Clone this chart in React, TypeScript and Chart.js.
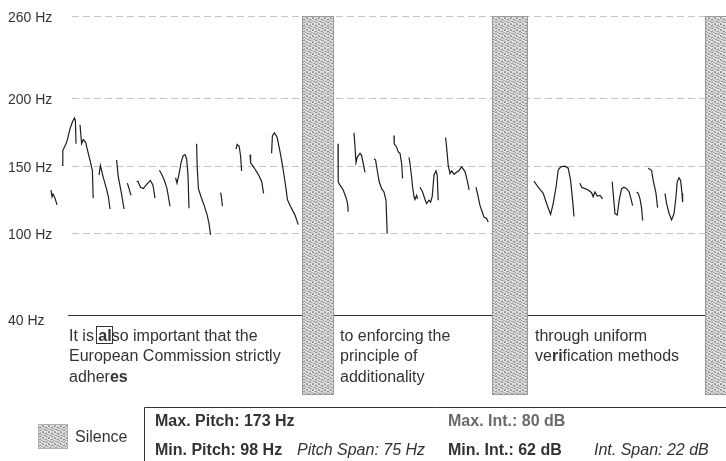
import React, { useEffect, useRef } from "react";
import { Chart, registerables } from "chart.js";

Chart.register(...registerables);

// ---- data (time in ms, pitch in Hz) ----
const yTicks = [260, 200, 150, 100, 40];
const yTickLabels = ["260 Hz", "200 Hz", "150 Hz", "100 Hz", "40 Hz"];

const segTimes: number[][] = [
  [55, 60, 65, 75, 85],
  [110, 114, 130, 137, 150, 162, 172, 177, 180],
  [200, 208, 216, 228, 238, 250, 262, 266],
  [295, 302, 315, 332, 342, 350],
  [383, 391, 408, 420],
  [437, 445, 455],
  [483, 490, 502, 517, 532, 552, 565, 575],
  [597, 610, 622, 635, 642, 650],
  [678, 685, 695, 705, 715, 725, 733, 740, 745],
  [783, 786, 792, 805, 820, 835, 845, 853],
  [903, 907, 912],
  [980, 986, 996, 1003, 1008],
  [1050, 1053, 1070, 1091, 1108, 1118],
  [1158, 1162, 1172, 1185, 1195, 1208, 1220, 1230, 1237, 1252, 1275, 1291],
  [1490, 1491, 1500, 1516, 1530, 1538, 1541],
  [1570, 1575, 1580, 1586, 1600, 1608, 1616, 1625],
  [1670, 1678, 1686, 1696, 1708, 1720, 1730, 1736],
  [1770, 1771, 1783, 1791, 1800, 1808, 1813],
  [1845, 1850, 1858, 1863, 1870, 1875, 1883, 1888],
  [1900, 1913, 1925, 1933, 1945, 1953, 1961, 1970, 1980, 1986, 1991],
  [2028, 2033, 2041, 2050, 2058, 2070, 2083, 2096, 2108, 2125, 2136, 2146],
  [2180, 2191, 2200, 2211, 2220, 2233, 2241],
  [2470, 2491, 2516, 2533, 2553, 2566, 2580, 2591, 2603, 2625, 2641, 2653, 2663, 2670],
  [2700, 2708, 2725, 2741, 2758, 2766, 2775, 2786, 2800, 2813],
  [2861, 2866, 2875, 2886, 2896, 2908, 2920, 2933, 2946, 2955, 2963],
  [2983, 2991, 3000, 3008, 3013],
  [3041, 3058, 3066, 3080, 3088],
  [3125, 3133, 3146, 3158, 3170, 3180, 3186, 3195, 3203, 3210, 3213],
];

const segPitch: number[][] = [
  [132, 127, 129, 126, 121],
  [150, 161, 166, 169, 177, 182, 185, 183, 166],
  [180, 166, 169, 167, 161, 154, 146, 126],
  [143, 150, 142, 133, 127, 118],
  [154, 142, 129, 118],
  [137, 133, 128],
  [138, 138.4, 134, 133, 136, 139, 135.5, 126],
  [146.5, 143, 139, 133, 127, 120],
  [141, 137, 143.5, 152, 157, 158, 155, 143, 118.5],
  [166, 149, 133, 127, 121, 114, 107.5, 99],
  [130, 127, 120],
  [162, 165.5, 164, 157, 146],
  [158, 152, 148.5, 143.5, 138.5, 129.5],
  [159, 172, 174, 171, 164, 154, 143, 133, 125, 120, 113.5, 106.5],
  [166, 138, 135.5, 132, 126.5, 122, 116],
  [174, 164, 152, 156, 159, 157.5, 151.5, 145],
  [155, 154, 146.5, 138, 133, 130.5, 124.5, 100],
  [172, 166, 163.5, 160, 159, 151.5, 140.5],
  [156, 151.5, 141.5, 134, 127, 125, 128, 125.5],
  [134, 130.5, 125, 122, 124.5, 123, 127, 143, 146, 143, 124.5],
  [170.5, 163.5, 150, 144, 146, 143.5, 145, 146.5, 149, 145.5, 139, 132],
  [134, 127, 120.5, 116, 112, 111, 108.5],
  [138.5, 134, 129.5, 122, 114, 122, 134, 146.5, 149, 149.5, 148, 139, 124.5, 112.5],
  [137, 134, 133, 132, 130, 127, 130.5, 127.5, 128, 125.5],
  [138, 129.5, 114.5, 113.5, 124.5, 133, 134, 133, 130.5, 125.5, 120.5],
  [130.5, 129.5, 125.5, 118.5, 109.5],
  [148, 146.5, 139, 129.5, 119],
  [129.5, 122, 114.5, 110, 114.5, 127, 138, 141, 139, 129.5, 123],
];

const silenceStart = [1310, 2260, 3325];
const silenceEnd = [1470, 2440, 3500];

const phraseStart = [145, 1500, 2475];
// each run: [text, style] where style 0 = normal, 1 = bold, 2 = bold + box
type Run = [string, number];
const phraseLines: Run[][][] = [
  [
    [["It is ", 0], ["al", 2], ["so important that the", 0]],
    [["European Commission strictly", 0]],
    [["adher", 0], ["es", 1]],
  ],
  [[["to enforcing the", 0]], [["principle of", 0]], [["additionality", 0]]],
  [[["through uniform", 0]], [["ve", 0], ["ri", 1], ["fication methods", 0]]],
];

const maxPitch = 173;
const minPitch = 98;
const pitchSpan = 75;
const maxInt = 80;
const minInt = 62;
const intSpan = 22;

const FONT = '"Liberation Sans", Arial, sans-serif';

function makePattern(ctx: CanvasRenderingContext2D) {
  const c = document.createElement("canvas");
  c.width = 6;
  c.height = 6;
  const g = c.getContext("2d")!;
  g.fillStyle = "#e2e2e2";
  g.fillRect(0, 0, 6, 6);
  const dark = [[0, 0], [1, 0], [3, 1], [4, 1], [5, 2], [1, 3], [2, 3], [3, 4], [4, 4], [0, 5]];
  const mid = [[4, 0], [2, 1], [0, 2], [4, 3], [5, 4], [1, 5], [3, 2]];
  g.fillStyle = "#959595";
  dark.forEach(([x, y]) => g.fillRect(x, y, 1, 1));
  g.fillStyle = "#bcbcbc";
  mid.forEach(([x, y]) => g.fillRect(x, y, 1, 1));
  return ctx.createPattern(c, "repeat")!;
}

export default function App() {
  const ref = useRef<HTMLCanvasElement | null>(null);

  useEffect(() => {
    if (!ref.current) return;
    const points: { x: number; y: number | null }[] = [];
    segTimes.forEach((ts, i) => {
      ts.forEach((t, j) => points.push({ x: t, y: segPitch[i][j] }));
      points.push({ x: ts[ts.length - 1] + 1, y: null });
    });

    const decor = {
      id: "decor",
      beforeDatasetsDraw(chart: any) {
        const { ctx, scales } = chart;
        const xs = scales.x;
        const ys = scales.y;
        const W = chart.width;
        ctx.save();
        // dashed gridlines
        ctx.strokeStyle = "#c4c4c4";
        ctx.lineWidth = 1;
        ctx.setLineDash([7, 4]);
        yTicks.forEach((v) => {
          if (v === 40) return;
          const py = Math.round(ys.getPixelForValue(v)) + 0.5;
          ctx.beginPath();
          ctx.moveTo(xs.getPixelForValue(160), py);
          ctx.lineTo(W, py);
          ctx.stroke();
        });
        ctx.setLineDash([]);
        // baseline at 40 Hz
        const by = Math.round(ys.getPixelForValue(40)) + 0.5;
        ctx.strokeStyle = "#333";
        ctx.beginPath();
        ctx.moveTo(xs.getPixelForValue(140), by);
        ctx.lineTo(W, by);
        ctx.stroke();
        // tick labels
        ctx.fillStyle = "#333";
        ctx.font = `14px ${FONT}`;
        ctx.textBaseline = "alphabetic";
        ctx.textAlign = "left";
        yTicks.forEach((v, i) => {
          const py = ys.getPixelForValue(v);
          ctx.fillText(yTickLabels[i], 8, py + (v === 40 ? 10 : 6));
        });
        // phrase text
        phraseLines.forEach((lines, pi) => {
          const x0 = xs.getPixelForValue(phraseStart[pi]);
          lines.forEach((runs, li) => {
            let x = x0;
            const base = by + 25 + li * 20.5;
            runs.forEach(([txt, st]) => {
              ctx.font = `${st ? "bold " : ""}16px ${FONT}`;
              ctx.fillStyle = "#333";
              ctx.fillText(txt, x, base);
              const w = ctx.measureText(txt).width;
              if (st === 2) {
                ctx.strokeStyle = "#333";
                ctx.lineWidth = 1;
                ctx.strokeRect(Math.round(x - 2) + 0.5, Math.round(base - 15) + 0.5, Math.round(w + 3), 17);
              }
              x += w;
            });
          });
        });
        ctx.restore();
      },
      afterDatasetsDraw(chart: any) {
        const { ctx, scales } = chart;
        const xs = scales.x;
        const ys = scales.y;
        const W = chart.width;
        const H = chart.height;
        const pat = makePattern(ctx);
        ctx.save();
        const top = Math.round(ys.getPixelForValue(260));
        const bot = Math.round(ys.getPixelForValue(40)) + 80;
        silenceStart.forEach((s, i) => {
          const x1 = Math.round(xs.getPixelForValue(s));
          const x2 = Math.round(xs.getPixelForValue(silenceEnd[i]));
          ctx.fillStyle = pat;
          ctx.fillRect(x1, top, x2 - x1, bot - top);
          ctx.strokeStyle = "#9a9a9a";
          ctx.lineWidth = 1;
          ctx.strokeRect(x1 + 0.5, top + 0.5, x2 - x1 - 1, bot - top - 1);
        });
        // legend swatch
        ctx.fillStyle = pat;
        ctx.fillRect(38, 424, 30, 25);
        ctx.strokeStyle = "#b0b0b0";
        ctx.strokeRect(38.5, 424.5, 29, 24);
        ctx.fillStyle = "#333";
        ctx.font = `16px ${FONT}`;
        ctx.fillText("Silence", 75, 442);
        // stats box
        ctx.strokeStyle = "#333";
        ctx.lineWidth = 1;
        ctx.beginPath();
        ctx.moveTo(144.5, H);
        ctx.lineTo(144.5, 407.5);
        ctx.lineTo(W, 407.5);
        ctx.stroke();
        ctx.font = `bold 16px ${FONT}`;
        ctx.fillStyle = "#333";
        ctx.fillText(`Max. Pitch: ${maxPitch} Hz`, 155, 425.5);
        ctx.fillText(`Min. Pitch: ${minPitch} Hz`, 155, 455);
        ctx.fillText(`Min. Int.: ${minInt} dB`, 448, 455);
        ctx.fillStyle = "#6a6a6a";
        ctx.fillText(`Max. Int.: ${maxInt} dB`, 448, 425.5);
        ctx.font = `italic 16px ${FONT}`;
        ctx.fillStyle = "#333";
        ctx.fillText(`Pitch Span: ${pitchSpan} Hz`, 297, 455);
        ctx.fillText(`Int. Span: ${intSpan} dB`, 594, 455);
        ctx.restore();
      },
    };

    const chart = new Chart(ref.current, {
      type: "line",
      data: {
        datasets: [
          {
            data: points as any,
            borderColor: "#1e1e1e",
            borderWidth: 1.2,
            pointRadius: 0,
            tension: 0,
            fill: false,
            spanGaps: false,
          },
        ],
      },
      options: {
        animation: false,
        responsive: false,
        events: [],
        layout: { padding: { left: 40, right: 0, top: 16, bottom: 146 } },
        scales: {
          x: { type: "linear", min: 0, max: 3430, display: false },
          y: { type: "linear", min: 40, max: 260, display: false },
        },
        plugins: { legend: { display: false }, tooltip: { enabled: false } },
      },
      plugins: [decor],
    });
    return () => chart.destroy();
  }, []);

  return (
    <div style={{ position: "fixed", left: 0, top: 0, width: 726, height: 461, background: "#fff" }}>
      <canvas ref={ref} width={726} height={461} style={{ display: "block" }} />
    </div>
  );
}
